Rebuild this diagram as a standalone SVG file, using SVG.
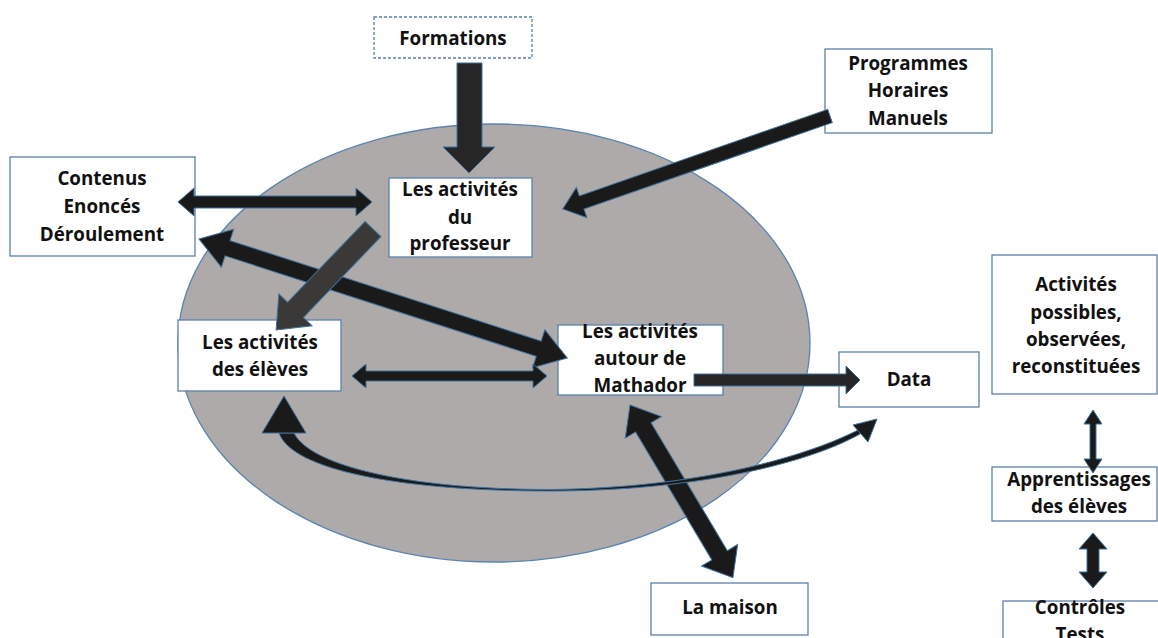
<svg xmlns="http://www.w3.org/2000/svg" width="1158" height="638" viewBox="0 0 1158 638">
<defs>
<style>
.box{fill:#fff;stroke:#5b80aa;stroke-width:1.3}
.dash{stroke-dasharray:3 2}
.t{font-family:"Open Sans","Liberation Sans",sans-serif;font-weight:700;font-size:18.8px;fill:#111;text-anchor:middle}
.arr{fill:#1a1a1a;stroke:#41719c;stroke-width:1}
</style>
</defs>
<rect width="1158" height="638" fill="#fff"/>
<ellipse id="ellipse" cx="494" cy="343" rx="316" ry="219" fill="#aeaaaa" stroke="#5b84b1" stroke-width="1.3"/>

<g id="formations"><rect class="box dash" x="374" y="17" width="158" height="41"/><text class="t" x="453" y="45">Formations</text></g>
<g id="programmes"><rect class="box" x="825" y="49" width="167" height="84"/><text class="t" x="908" y="70">Programmes</text><text class="t" x="908" y="97">Horaires</text><text class="t" x="908" y="125">Manuels</text></g>
<g id="contenus"><rect class="box" x="10" y="157" width="185" height="99"/><text class="t" x="102" y="185">Contenus</text><text class="t" x="102" y="213">Enoncés</text><text class="t" x="102" y="241">Déroulement</text></g>
<g id="professeur"><rect class="box" x="389" y="178" width="143" height="79"/><text class="t" x="460" y="196">Les activités</text><text class="t" x="460" y="224">du</text><text class="t" x="460" y="250">professeur</text></g>
<g id="eleves"><rect class="box" x="178" y="320" width="163" height="71"/><text class="t" x="260" y="349">Les activités</text><text class="t" x="260" y="376">des élèves</text></g>
<g id="mathador"><rect class="box" x="558" y="325" width="165" height="70"/><text class="t" x="640" y="338">Les activités</text><text class="t" x="640" y="365">autour de</text><text class="t" x="640" y="392">Mathador</text></g>
<g id="data"><rect class="box" x="839" y="352" width="140" height="55"/><text class="t" x="909" y="386">Data</text></g>
<g id="maison"><rect class="box" x="651" y="583" width="157" height="52"/><text class="t" x="730" y="614">La maison</text></g>
<g id="activites"><rect class="box" x="992" y="255" width="165" height="139"/><text class="t" x="1076" y="291">Activités</text><text class="t" x="1076" y="319">possibles,</text><text class="t" x="1076" y="346">observées,</text><text class="t" x="1076" y="373">reconstituées</text></g>
<g id="apprentissages"><rect class="box" x="992" y="467" width="165" height="54"/><text class="t" x="1079" y="486">Apprentissages</text><text class="t" x="1079" y="513">des élèves</text></g>
<g id="controles"><rect class="box" x="1003" y="601" width="160" height="50"/><text class="t" x="1080" y="614">Contrôles</text><text class="t" x="1080" y="641">Tests</text></g>

<g id="connectors">
<polygon class="arr" style="fill:#262626" points="457,63 482,63 482,147 495,147 469,173 443,147 457,147"/>
<polygon class="arr" transform="translate(830,116) rotate(160.8)" points="0,-7 263,-7 263,-16 283,0 263,16 263,7 0,7"/>
<polygon class="arr" transform="translate(178,202)" points="0,0 16,-14 16,-6 178,-6 178,-14 194,0 178,14 178,6 16,6 16,14"/>
<polygon class="arr" transform="translate(199,239) rotate(17.9)" points="0,0 30,-20 30,-8 357,-8 357,-20 387,0 357,20 357,8 30,8 30,20"/>
<polygon class="arr" style="fill:#3b3838" transform="translate(373,229) rotate(133.8)" points="0,-11 112,-11 112,-23 140,0 112,23 112,11 0,11"/>
<polygon class="arr" transform="translate(352,376)" points="0,0 14,-12 14,-5 181,-5 181,-12 195,0 181,12 181,5 14,5 14,12"/>
<polygon class="arr" style="fill:#262626" transform="translate(694,380)" points="0,-6 152,-6 152,-14 166,0 152,14 152,6 0,6"/>
<polygon class="arr" transform="translate(630,405) rotate(59.2)" points="0,0 26,-21 26,-9 175,-9 175,-21 201,0 175,21 175,9 26,9 26,21"/>
<polygon class="arr" transform="translate(1093,410) rotate(90)" points="0,0 14,-9 14,-3 49,-3 49,-9 63,0 49,9 49,3 14,3 14,9"/>
<polygon class="arr" transform="translate(1093,533) rotate(90)" points="0,0 16,-14 16,-6 39,-6 39,-14 55,0 39,14 39,6 16,6 16,14"/>
<path class="arr" d="M 279 433 C 292 470 400 491 550 491 C 700 491 810 462 860 434 L 864 427 C 810 456 700 488 550 489.5 C 410 489.5 310 466 294 433 Z"/>
<polygon class="arr" points="284,396 262,433 306,433"/>
<polygon class="arr" points="877,419 853,425 868,442"/>
</g>
</svg>
